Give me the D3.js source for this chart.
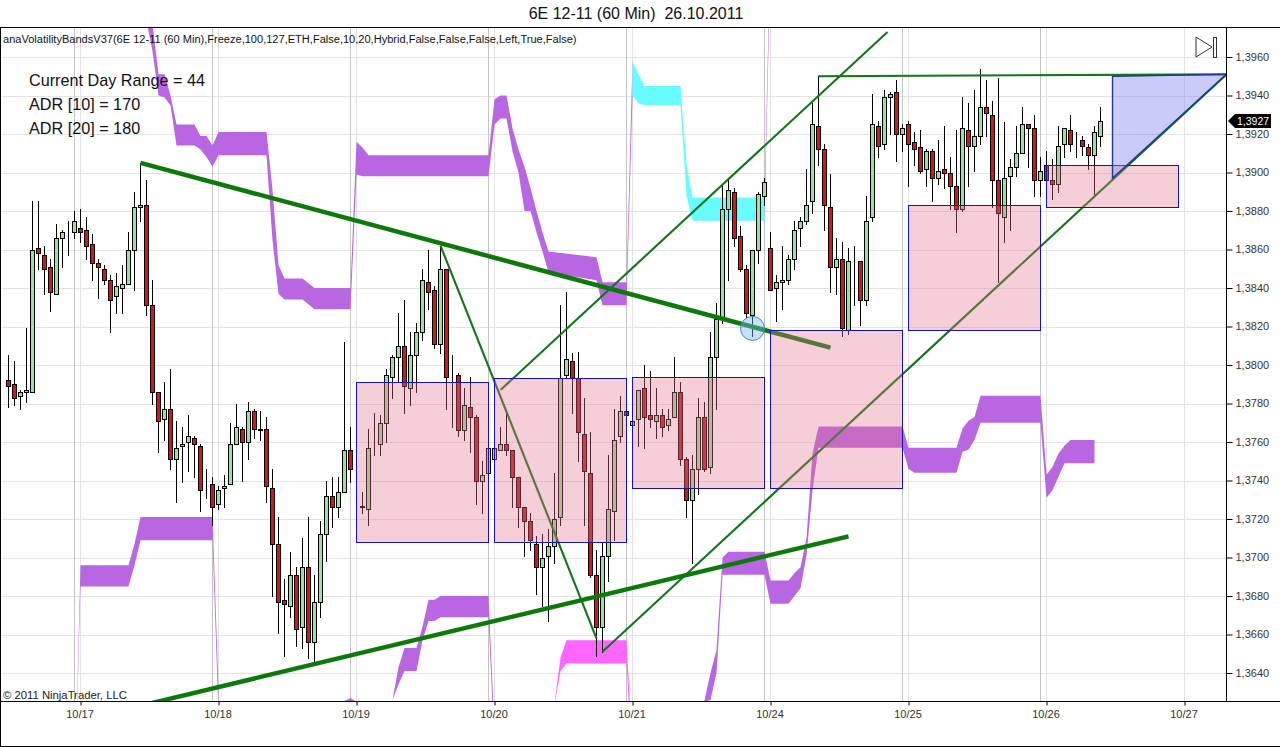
<!DOCTYPE html>
<html><head><meta charset="utf-8">
<script src="https://cdn.jsdelivr.net/npm/d3@7/dist/d3.min.js"></script>
<style>html,body{margin:0;padding:0;background:#fff}svg{display:block}text{font-family:"Liberation Sans",Arial,sans-serif;white-space:pre}</style>
</head><body><svg id="c" width="1280" height="747"></svg>
<script>
// prices are in units of 0.0001, bars are hourly bar numbers (bar 13 = 10/17 open)
const firstBar = 1;
const opens = [
13792,13790,13784,13786,13786,13861,13857,13851,13837,13866,
13868,13869,13871,13870,13863,13853,13850,13844,13836,13840,
13842,13860,13882,13883,13831,13786,13772,13777,13751,13758,
13760,13762,13758,13737,13738,13728,13736,13738,13759,13767,
13760,13776,13766,13767,13736,13707,13678,13675,13691,13664,
13695,13656,13677,13712,13732,13726,13734,13756,13727,13727,
13725,13758,13759,13770,13794,13804,13810,13788,13805,13817,
13843,13839,13811,13850,13794,13795,13766,13778,13773,13740,
13744,13751,13756,13759,13756,13742,13726,13719,13707,13695,
13701,13706,13721,13795,13802,13793,13764,13744,13691,13664,
13701,13724,13763,13776,13769,13772,13788,13774,13771,13774,
13769,13773,13786,13751,13730,13746,13773,13747,13804,13824,
13881,13890,13867,13850,13826,13860,13888,13861,13840,13843,
13844,13855,13871,13875,13885,13924,13912,13882,13851,13855,
13818,13854,13854,13834,13877,13924,13915,13939,13942,13920,
13925,13916,13913,13902,13911,13897,13902,13900,13893,13881,
13922,13914,13919,13934,13930,13896,13877,13898,13903,13910,
13925,13923,13896,13904,13896,13894,13915,13922,13916,13917,
13913,13909,13919];
const closes = [
13789,13783,13786,13787,13860,13858,13850,13838,13866,13869,
13868,13875,13869,13862,13853,13851,13844,13834,13841,13842,
13860,13882,13883,13831,13786,13771,13777,13751,13757,13759,
13763,13759,13735,13737,13726,13735,13737,13759,13768,13760,
13776,13767,13767,13737,13707,13677,13676,13691,13663,13695,
13656,13677,13712,13732,13726,13734,13756,13746,13727,13726,
13757,13758,13770,13795,13804,13810,13789,13805,13817,13844,
13838,13811,13850,13794,13794,13766,13779,13773,13740,13743,
13757,13757,13759,13756,13742,13726,13719,13709,13695,13700,
13706,13720,13793,13803,13793,13765,13745,13691,13664,13701,
13725,13761,13776,13774,13771,13787,13773,13772,13774,13768,
13772,13786,13751,13730,13746,13773,13746,13804,13824,13881,
13891,13866,13850,13827,13860,13889,13895,13839,13843,13844,
13855,13870,13875,13883,13925,13912,13883,13851,13855,13819,
13854,13854,13834,13875,13925,13914,13939,13941,13920,13923,
13915,13912,13901,13911,13897,13901,13900,13893,13881,13923,
13914,13919,13934,13931,13896,13879,13897,13903,13910,13925,
13923,13896,13901,13896,13894,13914,13923,13915,13916,13914,
13909,13921,13927];
const highs = [
13805,13802,13787,13819,13885,13885,13862,13855,13873,13870,
13875,13880,13881,13877,13868,13855,13852,13847,13848,13852,
13869,13890,13905,13896,13844,13786,13791,13798,13771,13768,
13774,13763,13759,13746,13742,13737,13743,13770,13780,13768,
13781,13777,13776,13773,13746,13721,13689,13703,13695,13710,
13721,13691,13719,13740,13742,13742,13812,13768,13728,13734,
13767,13775,13774,13798,13805,13827,13834,13817,13822,13850,
13860,13841,13862,13850,13805,13796,13788,13794,13774,13750,
13757,13757,13768,13775,13756,13742,13726,13723,13711,13712,
13715,13744,13831,13838,13806,13807,13783,13765,13704,13708,
13753,13777,13784,13776,13771,13787,13800,13797,13788,13777,
13777,13804,13791,13752,13753,13783,13781,13817,13832,13893,
13896,13892,13872,13852,13860,13890,13897,13869,13847,13862,
13857,13875,13877,13902,13936,13950,13915,13899,13866,13864,
13861,13862,13854,13888,13941,13927,13943,13942,13948,13925,
13927,13921,13922,13912,13912,13917,13924,13908,13922,13939,
13936,13943,13954,13948,13937,13949,13926,13907,13924,13934,
13925,13930,13908,13911,13907,13924,13923,13930,13921,13919,
13915,13924,13934];
const lows = [
13778,13779,13777,13781,13786,13850,13837,13828,13837,13851,
13857,13866,13864,13855,13844,13835,13842,13817,13827,13827,
13842,13839,13875,13826,13780,13755,13761,13746,13729,13739,
13745,13742,13724,13731,13717,13725,13726,13738,13759,13740,
13751,13762,13761,13729,13680,13661,13649,13669,13654,13653,
13648,13646,13669,13698,13716,13721,13734,13739,13726,13723,
13717,13753,13753,13760,13783,13791,13775,13779,13786,13813,
13829,13809,13806,13777,13768,13763,13761,13755,13728,13723,
13744,13751,13756,13753,13726,13716,13701,13704,13681,13675,
13667,13697,13717,13793,13775,13750,13717,13690,13649,13651,
13688,13709,13760,13774,13769,13758,13757,13768,13762,13763,
13766,13773,13748,13721,13697,13733,13745,13744,13777,13822,
13844,13862,13849,13825,13815,13853,13883,13839,13823,13829,
13842,13850,13862,13873,13879,13904,13870,13838,13837,13815,
13816,13831,13821,13831,13875,13908,13912,13920,13906,13911,
13893,13904,13900,13893,13885,13894,13892,13881,13869,13880,
13893,13901,13915,13919,13882,13843,13864,13870,13898,13910,
13903,13888,13888,13891,13886,13890,13908,13911,13908,13909,
13902,13889,13914];

const priceTicks = [13640,13660,13680,13700,13720,13740,13760,13780,13800,13820,13840,13860,13880,13900,13920,13940,13960];
const dateBars = [13,36,59,82,105,128,151,174,197];
const dateLabels = ["10/17","10/18","10/19","10/20","10/21","10/24","10/25","10/26","10/27"];
const sessionEnds = [12,35,58,81,104,127,150,173];
const lastPrice = 13927;

// volatility bands: vertices of upper / lower band pieces
const bandPurpleA_bars = [24,25,26,27,28,29,32,33,34,35,36,44,45,46,47,50,52,58,59,60,61,81,82,83,84,85,86,87,88,89,90,91,99,100,104,105];
const bandPurpleA_top  = [13985,13977,13951,13951,13940,13925,13925,13919,13919,13914,13921,13921,13891,13852,13845,13845,13840,13840,13916,13913,13909,13909,13938,13940,13940,13923,13912,13903,13892,13880,13869,13859,13856,13843,13843,13958];
const bandPurpleA_bot  = [13979,13963,13940,13939,13935,13914,13914,13912,13908,13903,13909,13909,13865,13837,13834,13834,13829,13829,13899,13898,13898,13898,13925,13928,13928,13911,13900,13880,13880,13869,13859,13848,13844,13831,13831,13940];
const bandCyan_bars = [105,106,107,113,114,115,127];
const bandCyan_top  = [13958,13951,13945,13945,13904,13887,13887];
const bandCyan_bot  = [13940,13936,13935,13935,13888,13875,13875];
const bandPurpleB_bars = [127,128];
const bandPurpleB_top  = [13887,14020];
const bandPurpleB_bot  = [13875,14010];
const bandPurpleC_bars = [12,13,21,22,23,35,36];
const bandPurpleC_top  = [13574,13696,13696,13707,13721,13721,13632];
const bandPurpleC_bot  = [13574,13685,13685,13696,13709,13709,13619];
const bandPurpleD_bars = [56,58,59];
const bandPurpleD_top  = [13624,13627,13625];
const bandPurpleD_bot  = [13610,13610,13610];
const bandPurpleE_bars = [65,66,67,69,70,71,72,73,81,82];
const bandPurpleE_top  = [13626,13643,13653,13653,13664,13678,13678,13680,13680,13610];
const bandPurpleE_bot  = [13626,13634,13641,13641,13657,13667,13667,13669,13669,13600];
const bandMagenta_bars = [92,93,94,104,105];
const bandMagenta_top  = [13624,13648,13657,13657,13600];
const bandMagenta_bot  = [13623,13641,13645,13645,13590];
const bandPurpleF_bars = [117,118,119,120,121,127,128,131,132,133,134,135,136,150,151,152,159,160,161,162,163,173,174,175,176,177,178,182];
const bandPurpleF_top  = [13626,13640,13652,13700,13703,13703,13688,13688,13692,13695,13710,13754,13768,13768,13757,13757,13757,13767,13771,13773,13784,13784,13743,13747,13754,13758,13761,13761];
const bandPurpleF_bot  = [13625,13626,13640,13691,13691,13691,13676,13676,13680,13684,13701,13735,13757,13757,13746,13744,13744,13755,13756,13761,13770,13770,13731,13735,13742,13749,13749,13749];

// range boxes
const boxStart = [59,82,105,128,151,174];
const boxEnd   = [81,104,127,150,173,196];
const boxHigh  = [13791,13793,13794,13818,13883,13904];
const boxLow   = [13708,13708,13736,13736,13818,13882];

// drawn trend lines: bar1, price1, bar2, price2
const thickLineBars   = [[23,138],[25,141]];
const thickLinePrices = [[13905,13809],[13624.5,13711]];
const thinLineBars    = [[73,99],[83,147.5],[100,204],[136,204]];
const thinLinePrices  = [[13862,13658],[13787,13973],[13651,13951],[13950,13951]];
const triangleBars    = [185,204,185];
const trianglePrices  = [13950,13951,13897];
const markerBar = 125, markerPrice = 13819;

const infoLines = ["Current Day Range = 44","ADR [10] = 170","ADR [20] = 180"];
const title = "6E 12-11 (60 Min)  26.10.2011";
const indicatorText = "anaVolatilityBandsV37(6E 12-11 (60 Min),Freeze,100,127,ETH,False,10,20,Hybrid,False,False,False,Left,True,False)";
const copyright = "\u00a9 2011 NinjaTrader, LLC";

const svg = d3.select("#c");
const x = d3.scaleLinear().domain([0,197]).range([2.5,1184.5]);
const y = d3.scaleLinear().domain([13640,13960]).range([673,57]);
const fmt = p => (p/10000).toFixed(4).replace(".",",");
const plotR = 1226, plotT = 27, plotB = 701;

svg.append("defs").append("clipPath").attr("id","plot").append("rect")
  .attr("x",1).attr("y",plotT+1).attr("width",plotR-1).attr("height",plotB-plotT-1);

// grid
const grid = svg.append("g").attr("shape-rendering","crispEdges");
grid.selectAll(".h").data(priceTicks).join("line")
  .attr("x1",1).attr("x2",plotR).attr("y1",d=>Math.round(y(d))+.5).attr("y2",d=>Math.round(y(d))+.5)
  .attr("stroke","#e2e2e2");
grid.selectAll(".d").data(dateBars).join("line")
  .attr("x1",d=>x(d)).attr("x2",d=>x(d)).attr("y1",plotT).attr("y2",plotB).attr("stroke","#e2e2e2");
grid.selectAll(".s").data(sessionEnds).join("line")
  .attr("x1",d=>x(d)).attr("x2",d=>x(d)).attr("y1",plotT).attr("y2",plotB).attr("stroke","#c4c4c4");

const plot = svg.append("g").attr("clip-path","url(#plot)");

// bands
const purple="#b966e2", cyan="#68fbff", magenta="#ff66ff";
const area = d3.area().x(d=>x(d[0])).y0(d=>y(d[2])).y1(d=>y(d[1]));
[[bandPurpleA_bars,bandPurpleA_top,bandPurpleA_bot,purple],
 [bandCyan_bars,bandCyan_top,bandCyan_bot,cyan],
 [bandPurpleB_bars,bandPurpleB_top,bandPurpleB_bot,purple],
 [bandPurpleC_bars,bandPurpleC_top,bandPurpleC_bot,purple],
 [bandPurpleD_bars,bandPurpleD_top,bandPurpleD_bot,purple],
 [bandPurpleE_bars,bandPurpleE_top,bandPurpleE_bot,purple],
 [bandMagenta_bars,bandMagenta_top,bandMagenta_bot,magenta],
 [bandPurpleF_bars,bandPurpleF_top,bandPurpleF_bot,purple]
].forEach(([b,t,l,c])=>{
  plot.append("path").attr("d",area(b.map((k,i)=>[k,t[i],l[i]]))).attr("fill",c);
});

// candles
const bars = opens.map((o,i)=>({k:firstBar+i,o,c:closes[i],h:highs[i],l:lows[i]}));
const cg = plot.append("g").attr("shape-rendering","crispEdges");
cg.selectAll(".w").data(bars).join("line")
  .attr("x1",d=>x(d.k)).attr("x2",d=>x(d.k))
  .attr("y1",d=>Math.round(y(d.h))).attr("y2",d=>Math.round(y(d.l))+1)
  .attr("stroke","#000");
cg.selectAll(".b").data(bars).join("rect")
  .attr("x",d=>x(d.k)-2).attr("width",4)
  .attr("y",d=>Math.round(y(Math.max(d.o,d.c)))+.5)
  .attr("height",d=>Math.max(0,Math.round(y(Math.min(d.o,d.c)))-Math.round(y(Math.max(d.o,d.c)))))
  .attr("fill",d=>d.c>d.o?"#98e29e":"#e01014")
  .attr("stroke","#000");

// trend lines
const lineG = plot.append("g");
thickLineBars.forEach((b,i)=>lineG.append("line")
  .attr("x1",x(b[0])).attr("x2",x(b[1])).attr("y1",y(thickLinePrices[i][0])).attr("y2",y(thickLinePrices[i][1]))
  .attr("stroke","#0b7a0b").attr("stroke-width",4.5));
thinLineBars.forEach((b,i)=>lineG.append("line")
  .attr("x1",x(b[0])).attr("x2",x(b[1])).attr("y1",y(thinLinePrices[i][0])).attr("y2",y(thinLinePrices[i][1]))
  .attr("stroke","#12751a").attr("stroke-width",2.1));

// boxes
plot.selectAll(".box").data(boxStart).join("rect")
  .attr("x",(d,i)=>x(d)).attr("width",(d,i)=>x(boxEnd[i])-x(d))
  .attr("y",(d,i)=>Math.round(y(boxHigh[i]))+.5)
  .attr("height",(d,i)=>Math.round(y(boxLow[i]))-Math.round(y(boxHigh[i])))
  .attr("fill","rgba(226,115,140,.35)").attr("stroke","#1414b4").attr("shape-rendering","crispEdges");

// triangle
plot.append("path")
  .attr("d",d3.line()(triangleBars.map((k,i)=>[x(k),y(trianglePrices[i])]))+"Z")
  .attr("fill","rgba(130,130,245,.42)").attr("stroke","#1a3a98").attr("stroke-width",1.4);

// marker
plot.append("circle").attr("cx",x(markerBar)).attr("cy",y(markerPrice)).attr("r",12)
  .attr("fill","rgba(120,180,235,.42)").attr("stroke","#4d86c8");

// frame + axes
const frame = svg.append("g").attr("shape-rendering","crispEdges").attr("stroke","#000");
frame.append("line").attr("x1",0).attr("x2",1280).attr("y1",27.5).attr("y2",27.5);
frame.append("line").attr("x1",0.5).attr("x2",0.5).attr("y1",27).attr("y2",747).attr("stroke-width",1);
frame.append("line").attr("x1",0).attr("x2",1280).attr("y1",701.5).attr("y2",701.5);
frame.append("line").attr("x1",0).attr("x2",1280).attr("y1",746.5).attr("y2",746.5);
frame.append("line").attr("x1",plotR+.5).attr("x2",plotR+.5).attr("y1",27).attr("y2",702);

const axR = d3.axisRight(y).tickValues(priceTicks).tickFormat(fmt).tickSize(6).tickPadding(3);
const gR = svg.append("g").attr("transform",`translate(${plotR+.5},0)`).call(axR);
gR.select(".domain").remove();
gR.selectAll("text").attr("font-size",11).attr("fill","#333").attr("dy","0.3em").style("font-family",'"Liberation Sans"');
gR.selectAll("line").attr("stroke","#000");

const axB = d3.axisBottom(x).tickValues(dateBars).tickFormat((d,i)=>dateLabels[i]).tickSize(4).tickPadding(5);
const gB = svg.append("g").attr("transform",`translate(0,${plotB+.5})`).call(axB);
gB.select(".domain").remove();
gB.selectAll("text").attr("font-size",11).attr("fill","#333").attr("dx",-1).style("font-family",'"Liberation Sans"');
gB.selectAll("line").attr("stroke","#000");

// last price tag
const ly = Math.round(y(lastPrice));
svg.append("path").attr("d",`M1228,${ly} L1235,${ly-7} H1271 V${ly+7} H1235 Z`).attr("fill","#000");
svg.append("text").attr("x",1237).attr("y",ly+4).attr("font-size",10.5).attr("fill","#fff").text(fmt(lastPrice));

// play icon
svg.append("path").attr("d","M1196,37 L1212,47 L1196,57 Z").attr("fill","#fff").attr("stroke","#333");
svg.append("rect").attr("x",1213.5).attr("y",37.5).attr("width",3).attr("height",20).attr("fill","#fff").attr("stroke","#333");

// texts
svg.append("text").attr("x",636).attr("y",18.5).attr("text-anchor","middle").attr("font-size",16).attr("fill","#111").text(title);
svg.append("text").attr("x",3).attr("y",43).attr("font-size",11.06).attr("fill","#111").text(indicatorText);
infoLines.forEach((t,i)=>svg.append("text").attr("x",29).attr("y",86+24*i).attr("font-size",16.2).attr("fill","#111").text(t));
svg.append("text").attr("x",3).attr("y",699).attr("font-size",11.3).attr("fill","#222").text(copyright);
</script></body></html>
